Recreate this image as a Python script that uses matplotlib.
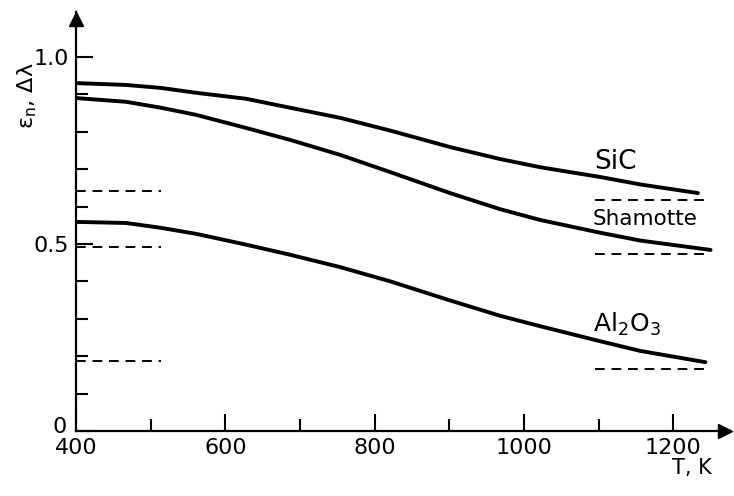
import numpy as np
import matplotlib.pyplot as plt
from matplotlib.transforms import ScaledTranslation

# curves: temperature in K, emissivity
temp_sic = [400, 467, 514, 561, 628, 687, 754, 821, 901, 968, 1022, 1102, 1156, 1233]
eps_sic = [0.930, 0.925, 0.917, 0.904, 0.888, 0.864, 0.837, 0.803, 0.759, 0.727,
           0.705, 0.679, 0.659, 0.636]

temp_sham = [400, 467, 514, 561, 628, 687, 754, 821, 901, 968, 1022, 1102, 1156, 1250]
eps_sham = [0.890, 0.880, 0.864, 0.845, 0.810, 0.778, 0.738, 0.692, 0.636, 0.593,
            0.564, 0.530, 0.509, 0.484]

temp_al = [400, 467, 514, 561, 628, 687, 754, 821, 901, 968, 1022, 1102, 1156, 1243]
eps_al = [0.559, 0.556, 0.543, 0.527, 0.498, 0.471, 0.438, 0.400, 0.349, 0.308,
          0.280, 0.240, 0.214, 0.184]

# dashed reference levels (left block and right block)
left_span = [400, 514]
left_levels = [0.642, 0.492, 0.187]
right_span = [1095, 1245]
right_levels = [0.618, 0.473, 0.166]

x_major = [400, 600, 800, 1000, 1200]
x_minor = [500, 700, 900, 1100]
y_major = [0, 0.5, 1.0]
y_labels = ['0', '0.5', '1.0']
y_minor = [0.1, 0.2, 0.3, 0.4, 0.6, 0.7, 0.8, 0.9]

fig = plt.figure(figsize=(7.34, 4.96), dpi=100)
ax = fig.add_axes([76/734, 65/496, 654/734, 419/496])
ax.set_xlim(400, 1276)
ax.set_ylim(0, 1.12)

for t, e in [(temp_sic, eps_sic), (temp_sham, eps_sham), (temp_al, eps_al)]:
    ax.plot(t, e, color='black', lw=2.8, solid_capstyle='round', solid_joinstyle='round')

for lv in left_levels:
    ax.plot(left_span, [lv, lv], color='black', lw=1.4, dashes=(5, 3.5))
for lv in right_levels:
    ax.plot(right_span, [lv, lv], color='black', lw=1.4, dashes=(5, 3.5))

ax.text(1094, 0.70, 'SiC', fontsize=19)
ax.text(1092, 0.55, 'Shamotte', fontsize=15.5)
ax.text(1092, 0.265, 'Al$_2$O$_3$', fontsize=18)

for s in ['top', 'right']:
    ax.spines[s].set_visible(False)
for s in ['left', 'bottom']:
    ax.spines[s].set_linewidth(1.6)
ax.plot(0.992, 0, '>k', markersize=10, transform=ax.transAxes, clip_on=False)
ax.plot(0, 0.983, '^k', markersize=10, transform=ax.transAxes, clip_on=False)

ax.set_xticks(x_major)
ax.set_xticks(x_minor, minor=True)
ax.set_yticks(y_major, y_labels)
ax.set_yticks(y_minor, minor=True)
ax.tick_params(which='both', direction='in', width=1.5, labelsize=16)
ax.tick_params(which='major', length=12)
ax.tick_params(which='minor', length=8.5)
ax.tick_params(axis='x', pad=5)
ax.tick_params(axis='y', pad=5)

# lift the "0" a little so it sits clear of "400", as in the original
zero_lbl = ax.get_yticklabels()[0]
zero_lbl.set_transform(zero_lbl.get_transform() + ScaledTranslation(-2/72, 4/72, fig.dpi_scale_trans))

fig.text(27/734, 1 - 96/496, 'ε$_\\mathregular{n}$, Δλ', rotation=90, fontsize=16,
         ha='center', va='center')
fig.text(692/734, 1 - 468/496, 'T, K', fontsize=15, ha='center', va='center')

fig.savefig('out.png', dpi=100)
